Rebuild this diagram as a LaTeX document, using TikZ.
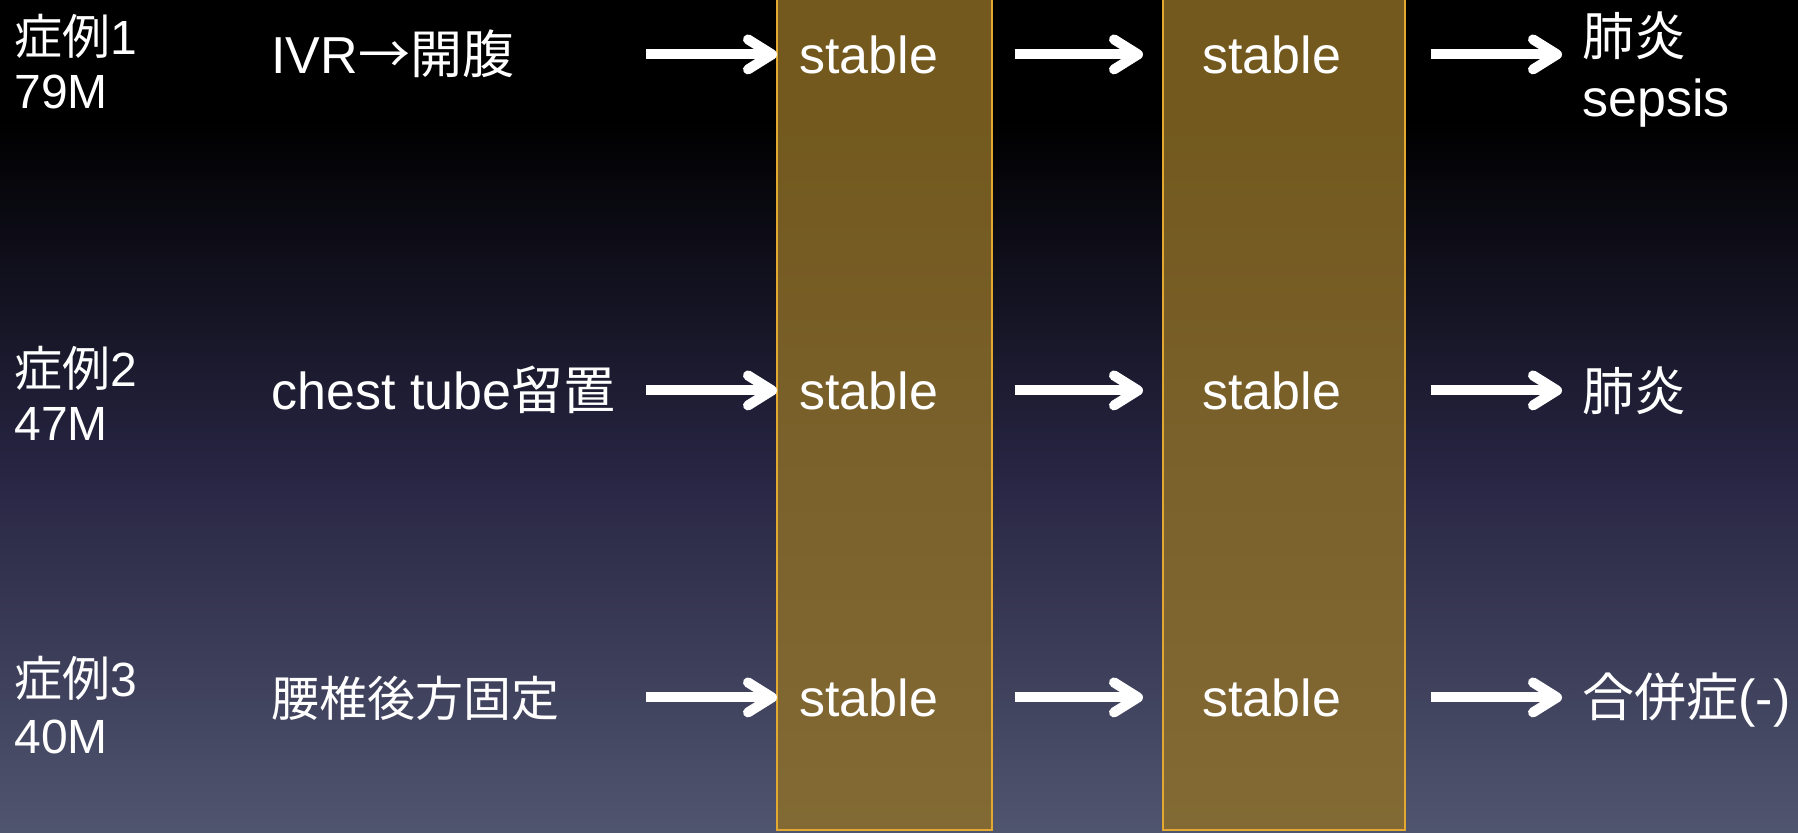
\documentclass[tikz,border=0pt]{standalone}
\usepackage{fontspec}
\setmainfont{Liberation Sans}
\newfontfamily\jp{Noto Sans CJK JP}
\usetikzlibrary{arrows.meta}

\definecolor{bgmid}{RGB}{40,38,68}
\definecolor{bgbot}{RGB}{80,85,110}
\definecolor{colfill}{RGB}{144,112,38}
\definecolor{coledge}{RGB}{226,168,48}

\tikzset{
  txt/.style={text=white, inner sep=0pt, anchor=base west, font=\fontsize{26}{30}\selectfont},
  casetxt/.style={txt, font=\fontsize{24}{28}\selectfont},
  bigarrow/.style={white, line width=5pt, -{Straight Barb[length=12pt, width=15pt, line cap=round, line join=round]}},
  band/.style={fill=colfill, fill opacity=0.8, draw=coledge, line width=0.8pt}
}

\begin{document}
\begin{tikzpicture}[x=0.5pt, y=-0.5pt]
\useasboundingbox (0,0) rectangle (1798,832);
% background
\fill[black] (0,0) rectangle (1798,121);
\shade[top color=black, bottom color=bgmid] (0,120) rectangle (1798,481);
\shade[top color=bgmid, bottom color=bgbot] (0,480) rectangle (1798,832);
% columns
\draw[band] (777,-5) rectangle (992,830);
\draw[band] (1163,-5) rectangle (1405,830);

% case 1
\node[casetxt] (case1) at (14,54) {{\jp 症例}1};
\node[casetxt] (age1) at (14,108) {79M};
\node[txt] (op1) at (271,73) {IVR{\jp →開腹}};
\node[txt] (out1) at (1582,55) {\jp 肺炎};
\node[txt] (sep1) at (1582,116) {sepsis};
% case 2
\node[casetxt] (case2) at (14,386) {{\jp 症例}2};
\node[casetxt] (age2) at (14,440) {47M};
\node[txt] (op2) at (271,409) {chest tube{\jp 留置}};
\node[txt] (out2) at (1582,410) {\jp 肺炎};
% case 3
\node[casetxt] (case3) at (14,696) {{\jp 症例}3};
\node[casetxt] (age3) at (14,753) {40M};
\node[casetxt] (op3) at (271,716) {\jp 腰椎後方固定};
\node[txt] (out3) at (1582,716) {{\jp 合併症}(-)};

\foreach \i/\sb in {1/73, 2/409, 3/716} {
  \node[txt] (sa\i) at (799,\sb) {stable};
  \node[txt] (sb\i) at (1202,\sb) {stable};
  \coordinate (p\i) at ([xshift=-76.5pt]sa\i.west);
  \draw[bigarrow, shorten >=11pt] (p\i) -- (sa\i);
  \draw[bigarrow, shorten <=38pt, shorten >=29.5pt] (sa\i) -- (sb\i);
  \draw[bigarrow, shorten <=44.5pt, shorten >=10pt] (sb\i) -- (sb\i -| out\i.west);
}
\end{tikzpicture}
\end{document}
